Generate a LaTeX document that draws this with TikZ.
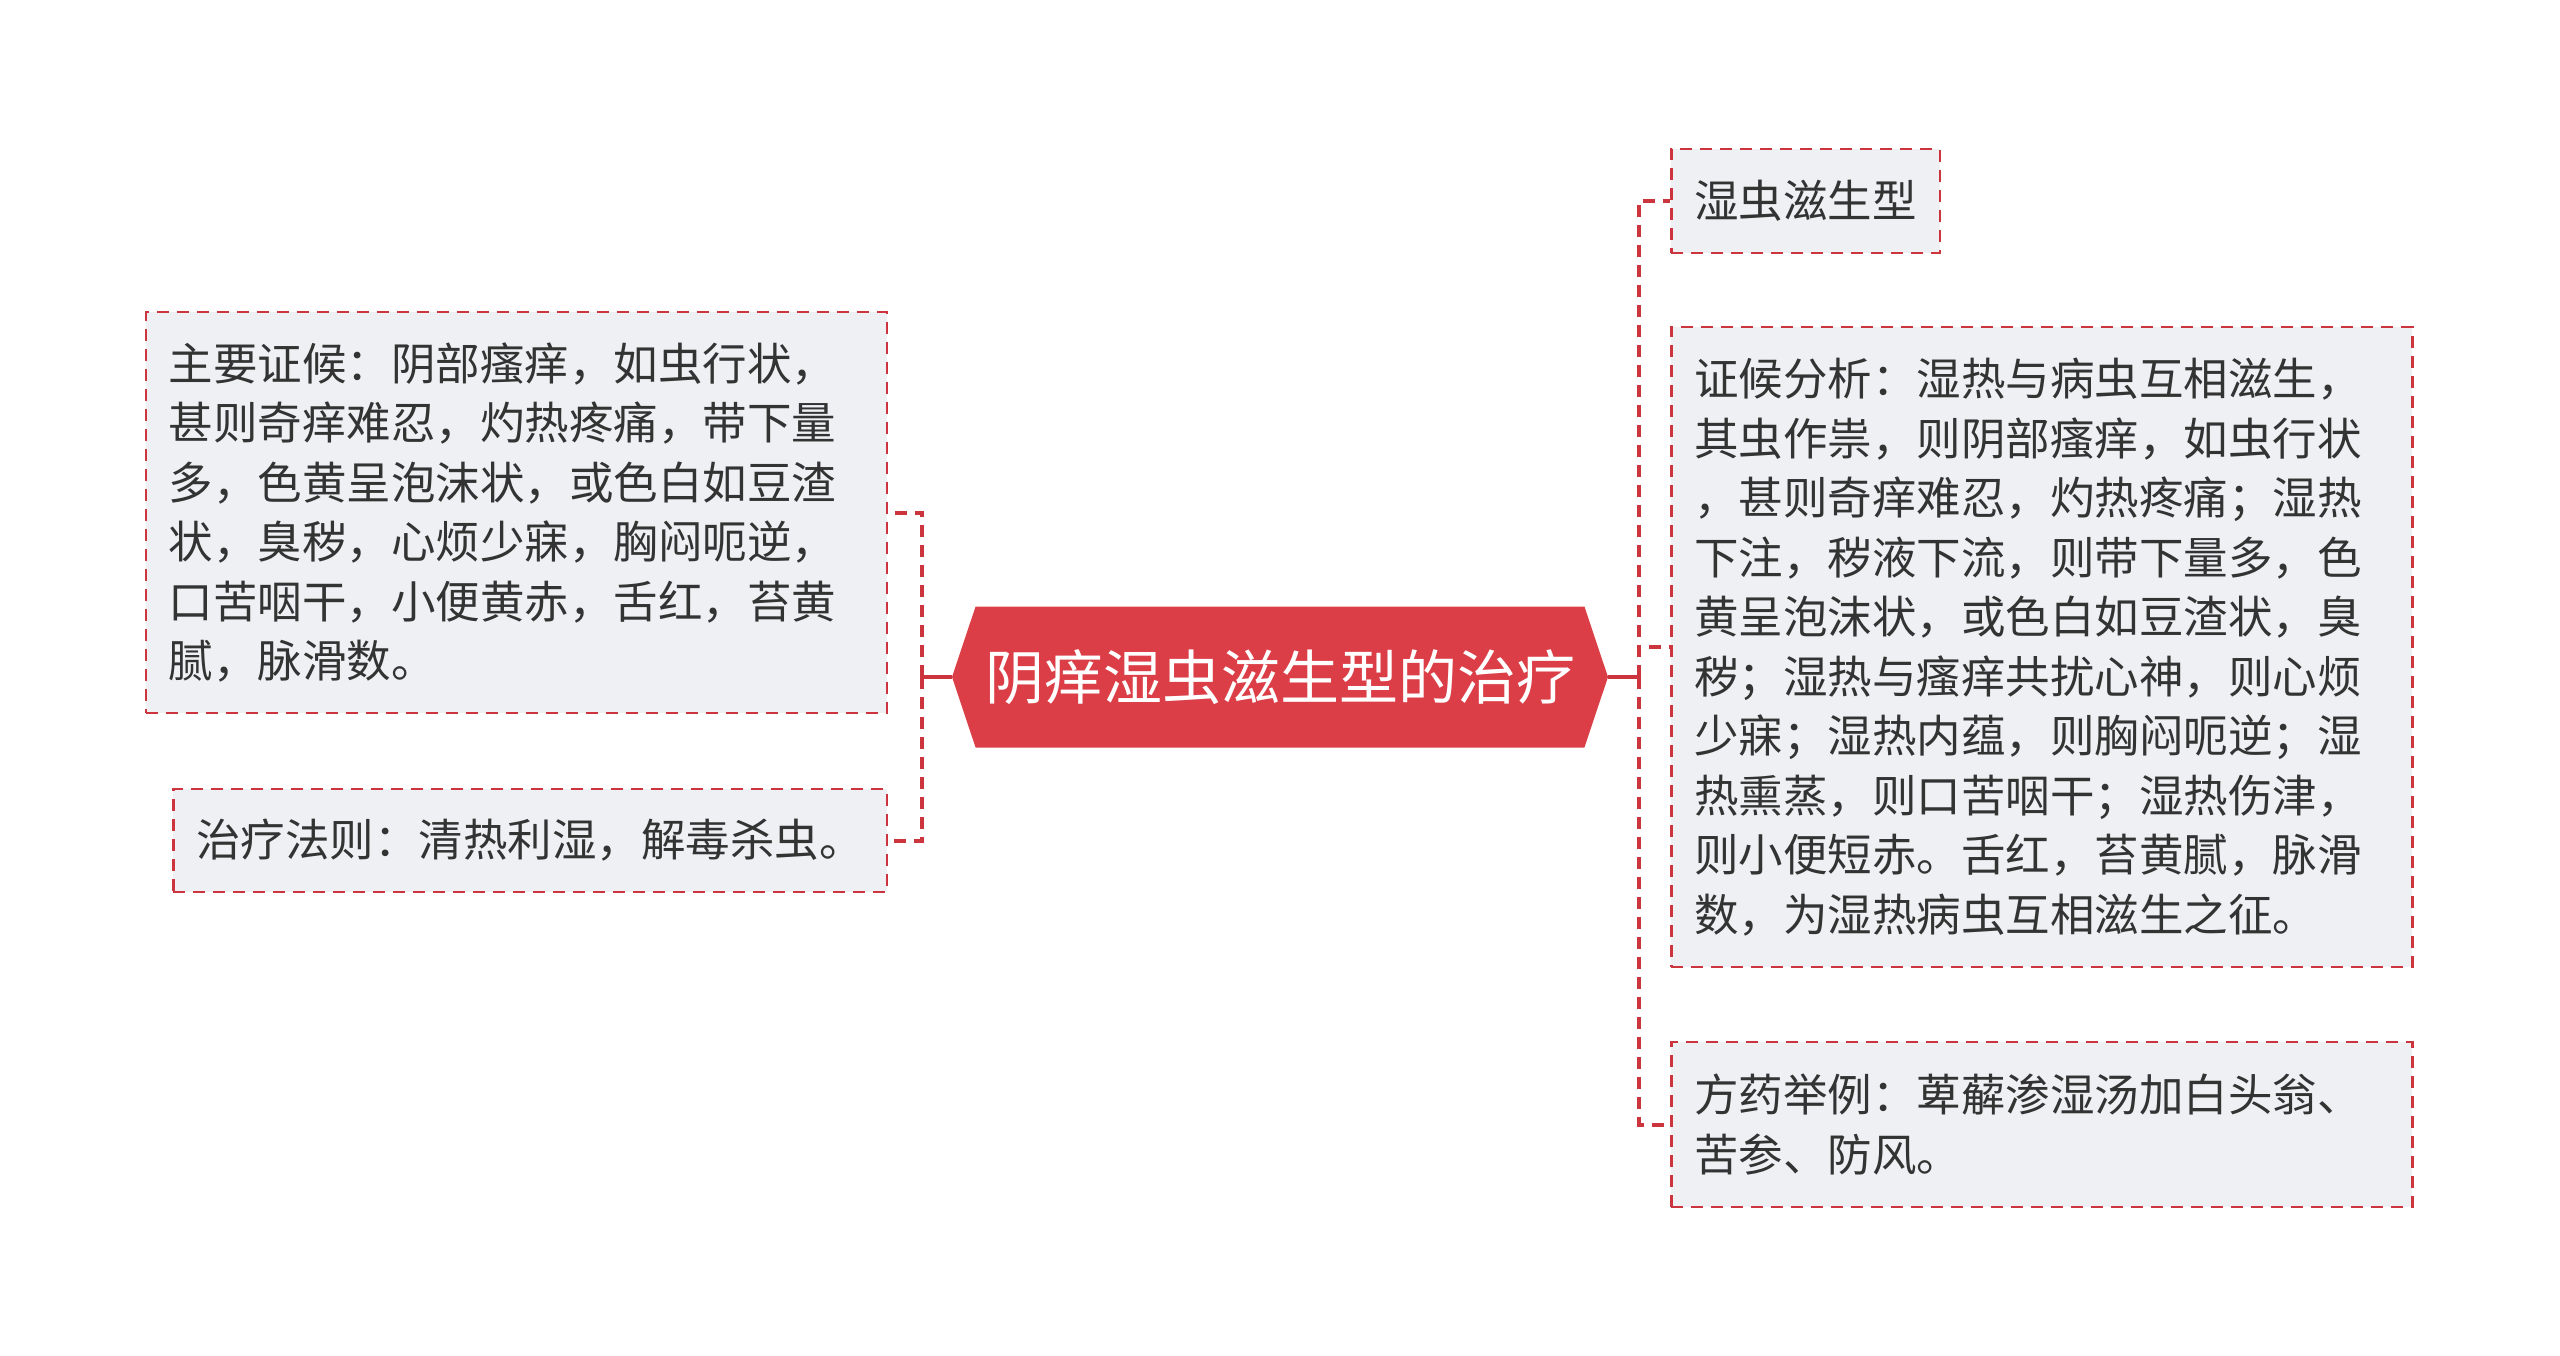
\documentclass[tikz,border=0pt]{standalone}
\usepackage{fontspec}
\newfontfamily\cjk{Noto Sans CJK SC}
\usetikzlibrary{shapes.symbols}
\definecolor{linered}{RGB}{204,52,62}
\definecolor{rootred}{RGB}{220,62,71}
\definecolor{leafgray}{RGB}{238,240,243}
\definecolor{inkgray}{RGB}{51,51,51}
\tikzset{
  leaf/.style={draw=linered, fill=leafgray, line width=2.5pt, dash pattern=on 12pt off 8pt,
    text=inkgray, font=\cjk\fontsize{44.5}{59.5}\selectfont, align=left,
    inner xsep=23pt, inner ysep=0pt},
  wideleaf/.style={leaf, text width=695pt},
  link/.style={draw=linered, line width=4pt, dash pattern=on 12pt off 8pt},
  stem/.style={draw=linered, line width=4pt}
}

\begin{document}
\begin{tikzpicture}[x=1pt,y=-1pt]
\useasboundingbox (0,0) rectangle (2560,1355);

\node (root) [shape=signal, signal to=west and east, signal pointer angle=143, fill=rootred,
  text=white, font=\cjk\fontsize{59}{70}\selectfont, minimum width=656pt,
  minimum height=141pt, inner sep=0pt] at (1280,677) {阴痒湿虫滋生型的治疗};

\node (symptom) [wideleaf, anchor=east, minimum height=401pt] at (888,512.5)
  {主要证候：阴部瘙痒，如虫行状，\\甚则奇痒难忍，灼热疼痛，带下量\\多，色黄呈泡沫状，或色白如豆渣\\状，臭秽，心烦少寐，胸闷呃逆，\\口苦咽干，小便黄赤，舌红，苔黄\\腻，脉滑数。};
\node (rule) [leaf, anchor=east, minimum height=103pt] at (888,840.5)
  {治疗法则：清热利湿，解毒杀虫。};

\node (type) [leaf, anchor=west, minimum height=104pt] at (1670,201)
  {湿虫滋生型};
\node (analysis) [wideleaf, anchor=west, minimum height=640pt] at (1670,647)
  {证候分析：湿热与病虫互相滋生，\\其虫作祟，则阴部瘙痒，如虫行状\\，甚则奇痒难忍，灼热疼痛；湿热\\下注，秽液下流，则带下量多，色\\黄呈泡沫状，或色白如豆渣状，臭\\秽；湿热与瘙痒共扰心神，则心烦\\少寐；湿热内蕴，则胸闷呃逆；湿\\热熏蒸，则口苦咽干；湿热伤津，\\则小便短赤。舌红，苔黄腻，脉滑\\数，为湿热病虫互相滋生之征。};
\node (recipe) [wideleaf, anchor=west, minimum height=165pt] at (1670,1124.5)
  {方药举例：萆薢渗湿汤加白头翁、\\苦参、防风。};

\coordinate (lj) at (922,677);
\coordinate (rj) at (1639,677);
\draw [stem] (root.west) -- (lj);
\draw [stem] (root.east) -- (rj);
\draw [link] (lj) |- (symptom.east);
\draw [link] (lj) |- (rule.east);
\draw [link] (rj) |- (type.west);
\draw [link] (rj) |- (analysis.west);
\draw [link] (rj) |- (recipe.west);
\end{tikzpicture}
\end{document}
